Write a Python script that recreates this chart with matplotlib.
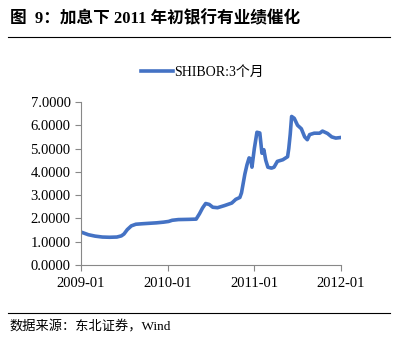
import matplotlib
matplotlib.use("Agg")
import matplotlib.pyplot as plt
import matplotlib.dates as mdates
import pandas as pd
from matplotlib.ticker import FormatStrFormatter

plt.rcParams["font.family"] = ["Liberation Serif", "Noto Sans CJK SC"]

dates = [
    "2009-01-05", "2009-02-01", "2009-03-01", "2009-04-01", "2009-05-01",
    "2009-06-01", "2009-06-20", "2009-07-01", "2009-07-15", "2009-08-01",
    "2009-08-20", "2009-09-15", "2009-10-15", "2009-11-15", "2009-12-15",
    "2010-01-05", "2010-01-20", "2010-02-15", "2010-04-01", "2010-05-01",
    "2010-05-15", "2010-05-28", "2010-06-10", "2010-06-25", "2010-07-10",
    "2010-07-30", "2010-08-28", "2010-09-28", "2010-10-15", "2010-11-01",
    "2010-11-08", "2010-11-15", "2010-11-22", "2010-12-01", "2010-12-10",
    "2010-12-17", "2010-12-22", "2011-01-01", "2011-01-12", "2011-01-24",
    "2011-02-02", "2011-02-10", "2011-02-18", "2011-02-27", "2011-03-14",
    "2011-03-25", "2011-04-08", "2011-05-01", "2011-05-21", "2011-05-26",
    "2011-06-01", "2011-06-07", "2011-06-18", "2011-07-02", "2011-07-18",
    "2011-08-01", "2011-08-12", "2011-08-22", "2011-09-10", "2011-10-03",
    "2011-10-15", "2011-11-05", "2011-11-23", "2011-12-10", "2012-01-04",
]
shibor_3m = [
    1.40, 1.30, 1.24, 1.20, 1.19,
    1.20, 1.25, 1.33, 1.52, 1.68,
    1.75, 1.77, 1.79, 1.81, 1.84,
    1.87, 1.92, 1.95, 1.96, 1.97,
    2.20, 2.45, 2.64, 2.60, 2.48,
    2.46, 2.55, 2.66, 2.82, 2.90,
    3.10, 3.50, 3.90, 4.30, 4.60,
    4.55, 4.20, 5.00, 5.70, 5.67,
    4.80, 4.95, 4.50, 4.20, 4.16,
    4.20, 4.45, 4.52, 4.65, 5.00,
    5.60, 6.38, 6.30, 6.00, 5.85,
    5.50, 5.38, 5.60, 5.66, 5.66,
    5.75, 5.65, 5.50, 5.45, 5.48,
]
x_ticks = ["2009-01-01", "2010-01-01", "2011-01-01", "2012-01-01"]

fig = plt.figure(figsize=(3.98, 3.44), dpi=100)
ax = fig.add_axes([0.2035, 0.2297, 0.6533, 0.4738])

ax.plot(pd.to_datetime(dates), shibor_3m, color="#4472C4", lw=2.6,
        solid_joinstyle="round", label="SHIBOR:3个月")

ax.set_xlim(pd.Timestamp(x_ticks[0]), pd.Timestamp(x_ticks[-1]))
ax.set_xticks(pd.to_datetime(x_ticks))
ax.xaxis.set_major_formatter(mdates.DateFormatter("%Y-%m"))
ax.set_ylim(0, 7)
ax.set_yticks(range(0, 8))
ax.yaxis.set_major_formatter(FormatStrFormatter("%.4f"))

for side in ("top", "right"):
    ax.spines[side].set_visible(False)
for side in ("left", "bottom"):
    ax.spines[side].set_color("#888888")
    ax.spines[side].set_linewidth(0.8)
ax.tick_params(direction="out", length=4, width=0.8, color="#888888",
               labelsize=10.5, labelcolor="black")
ax.tick_params(axis="x", pad=5)

ax.legend(loc="center", bbox_to_anchor=(0.467, 1.184), frameon=False,
          fontsize=10, handlelength=2.3, handletextpad=0.15)

# header and footer
fig.text(0.025, 0.945, "图  9：加息下 2011 年初银行有业绩催化", fontsize=12,
         fontweight="bold", ha="left", va="center",
         family=["Liberation Serif", "Noto Sans CJK SC"])
fig.add_artist(plt.Line2D([0.02, 0.98], [0.892, 0.892], color="black", lw=0.8))
fig.add_artist(plt.Line2D([0.02, 0.98], [0.09, 0.09], color="black", lw=0.8))
fig.text(0.025, 0.05, "数据来源：东北证券，Wind", fontsize=9.5,
         ha="left", va="center")

fig.savefig("out.png", dpi=100)
